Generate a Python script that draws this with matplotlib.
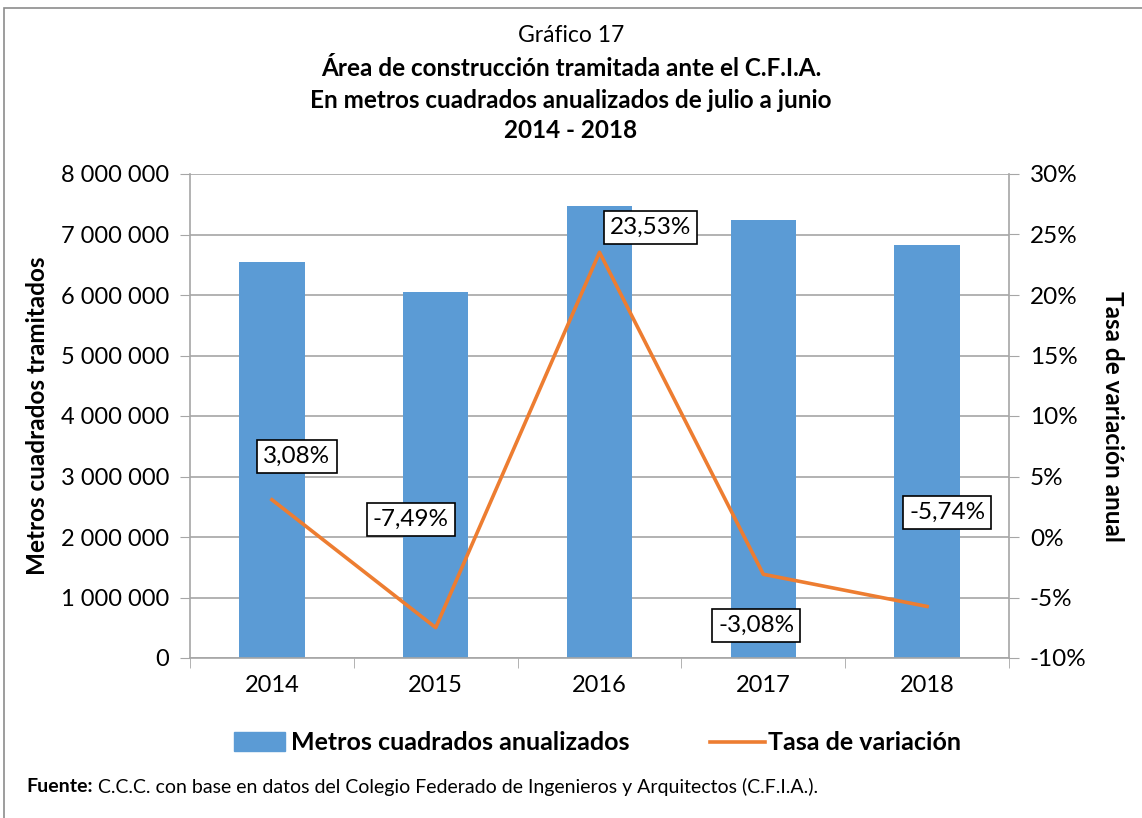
import matplotlib

matplotlib.use("Agg")
import matplotlib.pyplot as plt
from matplotlib.lines import Line2D
from matplotlib.patches import Patch, Rectangle
from matplotlib.ticker import FuncFormatter, FixedLocator

plt.rcParams["font.family"] = ["Lato", "DejaVu Sans"]

years = ["2014", "2015", "2016", "2017", "2018"]
metros = [6540000, 6050000, 7470000, 7240000, 6830000]
tasa = [3.08, -7.49, 23.53, -3.08, -5.74]
tasa_labels = ["3,08%", "-7,49%", "23,53%", "-3,08%", "-5,74%"]
# label offsets from the point, in pixels
label_offsets = [(25, 43), (-25, 108), (51, 25), (-7, -51), (20, 94)]

BLUE = "#5B9BD5"
ORANGE = "#ED7D31"
GRID = "#A6A6A6"


def main():
    fig = plt.figure(figsize=(11.42, 8.18), dpi=100)
    ax = fig.add_axes([190 / 1142, 1 - 658 / 818, (1009 - 190) / 1142, (658 - 174) / 818])
    x = list(range(len(years)))

    ax.bar(x, metros, width=0.40, color=BLUE, zorder=2)
    ax.set_xlim(-0.5, len(years) - 0.5)
    ax.set_ylim(0, 8000000)
    ax.set_yticks(range(0, 8000001, 1000000))
    ax.yaxis.set_major_formatter(FuncFormatter(lambda v, p: f"{int(v):,}".replace(",", " ")))
    ax.yaxis.grid(True, color=GRID, linewidth=1.2, zorder=0)
    ax.set_axisbelow(True)
    ax.set_xticks(x)
    ax.set_xticklabels(years)
    ax.xaxis.set_minor_locator(FixedLocator([i - 0.5 for i in range(len(years) + 1)]))
    ax.tick_params(axis="x", which="major", length=0, pad=12, labelsize=17)
    ax.tick_params(axis="x", which="minor", length=7, color=GRID, direction="out")
    ax.tick_params(axis="y", length=7, color=GRID, labelsize=17, pad=8)
    for s in ["left", "bottom", "right"]:
        ax.spines[s].set_color(GRID)
        ax.spines[s].set_linewidth(1.2)
    ax.spines["top"].set_visible(False)
    ax.set_ylabel("Metros cuadrados tramitados", fontsize=17.5, fontweight="bold")
    ax.yaxis.set_label_coords(-0.172, 0.5)

    ax2 = ax.twinx()
    ax2.plot(x, tasa, color=ORANGE, linewidth=2.6, zorder=3)
    ax2.set_ylim(-10, 30)
    ax2.set_yticks(range(-10, 31, 5))
    ax2.yaxis.set_major_formatter(FuncFormatter(lambda v, p: f"{int(v)}%"))
    ax2.tick_params(axis="y", length=7, color=GRID, labelsize=17.5, pad=8)
    for s in ["left", "bottom", "right", "top"]:
        ax2.spines[s].set_visible(False)
    ax2.set_ylabel("Tasa de variación anual", fontsize=17.5, fontweight="bold", rotation=270,
                   va="center")
    ax2.yaxis.set_label_coords(1.1258, 0.5)

    for xi, yi, lab, off in zip(x, tasa, tasa_labels, label_offsets):
        ax2.annotate(lab, (xi, yi), xytext=off, textcoords="offset pixels",
                     ha="center", va="center", fontsize=17.5, zorder=5,
                     bbox=dict(boxstyle="square,pad=0.25", fc="white", ec="black", lw=1.2))

    fig.text(0.5, 1 - 35 / 818, "Gráfico 17", ha="center", va="center", fontsize=16.5)
    fig.text(0.5, 1 - 68 / 818, "Área de construcción tramitada ante el C.F.I.A.",
             ha="center", va="center", fontsize=17.5, fontweight="bold")
    fig.text(0.5, 1 - 101 / 818, "En metros cuadrados anualizados de julio a junio",
             ha="center", va="center", fontsize=17.5, fontweight="bold")
    fig.text(0.5, 1 - 131 / 818, "2014 - 2018", ha="center", va="center",
             fontsize=17.5, fontweight="bold")

    leg_prop = {"size": 18, "weight": "bold"}
    fig.legend(handles=[Patch(color=BLUE, label="Metros cuadrados anualizados")],
               loc="center left", bbox_to_anchor=(234 / 1142, 1 - 743 / 818), frameon=False,
               borderpad=0, borderaxespad=0,
               handlelength=2.04, handleheight=0.8, handletextpad=0.24, prop=leg_prop)
    fig.legend(handles=[Line2D([0], [0], color=ORANGE, linewidth=2.6, label="Tasa de variación")],
               loc="center left", bbox_to_anchor=(710 / 1142, 1 - 743 / 818), frameon=False,
               borderpad=0, borderaxespad=0,
               handlelength=2.2, handletextpad=0.12, prop=leg_prop)

    fig.text(26 / 1142, 1 - 787 / 818, "Fuente:", fontsize=14, fontweight="bold", va="center")
    fig.text(98 / 1142, 1 - 787 / 818,
             "C.C.C. con base en datos del Colegio Federado de Ingenieros y Arquitectos (C.F.I.A.).",
             fontsize=14, va="center")

    fig.patches.append(Rectangle((4 / 1142, -0.1), 1.2, 1.1 - 8 / 818, transform=fig.transFigure,
                                 fill=False, ec="#8C8C8C", lw=1.2))

    fig.savefig("out.png", dpi=100)


if __name__ == "__main__":
    main()
